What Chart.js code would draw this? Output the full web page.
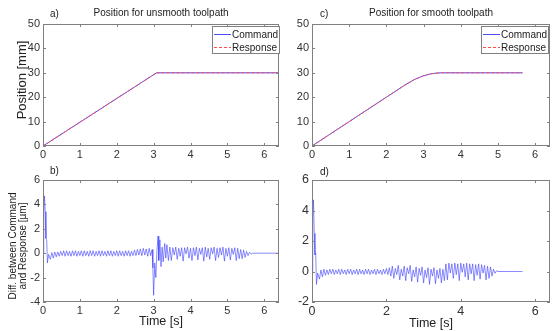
<!DOCTYPE html>
<html>
<head>
<meta charset="utf-8">
<script src="https://cdn.jsdelivr.net/npm/chart.js@4.4.1/dist/chart.umd.min.js"></script>
<style>
html, body { margin: 0; padding: 0; background: #fff; }
#wrap { position: relative; width: 552px; height: 331px; overflow: hidden; }
canvas { position: absolute; left: 0; top: 0; }
</style>
</head>
<body>
<div id="wrap">
  <canvas id="pa" width="552" height="331"></canvas>
  <canvas id="pb" width="552" height="331"></canvas>
  <canvas id="pc" width="552" height="331"></canvas>
  <canvas id="pd" width="552" height="331"></canvas>
</div>
<script>
// a) position, unsmooth toolpath
const timeA = [0, 3.08, 6.4];
const cmdA = [0, 30, 30];
const respA = [0, 30, 30];

// c) position, smooth toolpath
const timeC = [0, 0.5, 1, 1.5, 2, 2.5, 2.75, 3, 3.2, 3.4, 3.5, 5.66];
const cmdC = [0, 5, 10, 15, 20, 25, 27.2, 28.8, 29.6, 29.95, 30, 30];
const respC = [0, 5, 10, 15, 20, 25, 27.2, 28.8, 29.6, 29.95, 30, 30];

// b) diff, unsmooth
const timeB = [0, 0.02, 0.04, 0.06, 0.08, 0.1, 0.12, 0.15, 0.2, 0.24, 0.28, 0.32, 0.36, 0.4,
  0.44, 0.48, 0.52, 0.56, 0.6, 0.64, 0.68, 0.72, 0.76, 0.8,
  0.84, 0.88, 0.92, 0.96, 1.0, 1.04, 1.08, 1.12, 1.16, 1.2,
  1.24, 1.28, 1.32, 1.36, 1.4, 1.44, 1.48, 1.52, 1.56, 1.6,
  1.64, 1.68, 1.72, 1.76, 1.8, 1.84, 1.88, 1.92, 1.96, 2.0,
  2.04, 2.08, 2.12, 2.16, 2.2, 2.24, 2.28, 2.32, 2.36, 2.4,
  2.44, 2.48, 2.52, 2.56, 2.6,
  2.64, 2.68, 2.72, 2.76, 2.8, 2.84, 2.88, 2.92, 2.96,
  2.98, 3.0, 3.03, 3.06, 3.09, 3.12, 3.14, 3.17, 3.2, 3.23, 3.26, 3.3, 3.33, 3.36, 3.4,
  3.44, 3.48, 3.52, 3.56, 3.6, 3.64, 3.68, 3.72, 3.76, 3.8,
  3.84, 3.88, 3.92, 3.96, 4.0, 4.04, 4.08, 4.12, 4.16, 4.2,
  4.24, 4.28, 4.32, 4.36, 4.4, 4.44, 4.48, 4.52, 4.56, 4.6,
  4.64, 4.68, 4.72, 4.76, 4.8, 4.84, 4.88, 4.92, 4.96, 5.0,
  5.04, 5.08, 5.12, 5.16, 5.2, 5.24, 5.28, 5.32,
  5.36, 5.4, 5.44, 5.48, 5.52, 5.56, 5.6, 5.64, 5.68, 6.4];
const diffB = [0, 3.2, 4.7, 3.4, 1.2, 1.1, -0.8, -0.1, -0.5, 0.05, -0.4, 0.1, -0.3, 0.1,
  -0.25, 0.15, -0.2, 0.2, -0.25, 0.2, -0.2, 0.15, -0.25, 0.2,
  -0.2, 0.2, -0.25, 0.15, -0.2, 0.2, -0.25, 0.2, -0.2, 0.15,
  -0.25, 0.2, -0.2, 0.2, -0.25, 0.15, -0.2, 0.2, -0.25, 0.2,
  -0.2, 0.15, -0.25, 0.2, -0.2, 0.2, -0.25, 0.15, -0.2, 0.2,
  -0.25, 0.2, -0.2, 0.15, -0.25, 0.2, -0.2, 0.2, -0.25, 0.15,
  -0.2, 0.25, -0.2, 0.3, -0.15,
  0.35, -0.2, 0.4, -0.15, 0.35, -0.25, 0.4, -0.2, 0.3,
  -1.2, -3.45, -0.8, -2.0, 0.2, 1.4, -0.6, 1.1, -1.1, 0.5, -0.7, 0.8, -0.4, 0.7, -0.6,
  0.5, -0.6, 0.45, -0.15, 0.5, -0.5, 0.4, -0.25, 0.45, -0.65,
  0.45, -0.05, 0.5, -0.4, 0.4, -0.6, 0.45, -0.2, 0.5, -0.55,
  0.4, -0.1, 0.45, -0.65, 0.5, -0.3, 0.4, -0.5, 0.45, -0.05,
  0.5, -0.6, 0.4, -0.35, 0.45, -0.15, 0.5, -0.65, 0.4, -0.25,
  0.45, -0.55, 0.4, -0.1, 0.45, -0.6, 0.4, -0.45,
  0.3, -0.45, 0.25, -0.35, 0.15, -0.2, 0.08, -0.08, 0.0, 0];

// d) diff, smooth
const timeD = [0, 0.02, 0.04, 0.06, 0.08, 0.1, 0.12, 0.15, 0.2, 0.24, 0.28, 0.32, 0.36, 0.4,
  0.44, 0.48, 0.52, 0.56, 0.6, 0.64, 0.68, 0.72, 0.76, 0.8,
  0.84, 0.88, 0.92, 0.96, 1.0, 1.04, 1.08, 1.12, 1.16, 1.2,
  1.24, 1.28, 1.32, 1.36, 1.4, 1.44, 1.48, 1.52, 1.56, 1.6,
  1.64, 1.68, 1.72, 1.76, 1.8, 1.84, 1.88, 1.92, 1.96, 2.0,
  2.04, 2.08, 2.12,
  2.16, 2.2, 2.24, 2.28, 2.32, 2.36, 2.4, 2.44, 2.48, 2.52,
  2.56, 2.6, 2.64, 2.68, 2.72, 2.76, 2.8, 2.84, 2.88, 2.92,
  2.96, 3.0, 3.04, 3.08, 3.12, 3.16, 3.2, 3.24, 3.28, 3.32,
  3.36, 3.4, 3.44, 3.48, 3.52, 3.56,
  3.6, 3.64, 3.68, 3.72, 3.76, 3.8, 3.84, 3.88, 3.92, 3.96,
  4.0, 4.04, 4.08, 4.12, 4.16, 4.2, 4.24, 4.28, 4.32, 4.36,
  4.4, 4.44, 4.48, 4.52, 4.56, 4.6, 4.64, 4.68, 4.72,
  4.76, 4.8, 4.84, 4.88, 4.92, 4.96, 5.0, 5.66];
const diffD = [0, 3.5, 4.7, 2.5, 1.1, 1.2, -0.85, -0.1, -0.5, 0.1, -0.35, 0.15, -0.25, 0.1,
  -0.2, 0.15, -0.15, 0.15, -0.2, 0.1, -0.15, 0.15, -0.2, 0.15,
  -0.15, 0.1, -0.2, 0.15, -0.15, 0.15, -0.2, 0.1, -0.15, 0.15,
  -0.2, 0.15, -0.15, 0.1, -0.2, 0.15, -0.15, 0.15, -0.2, 0.1,
  -0.15, 0.15, -0.2, 0.15, -0.15, 0.1, -0.2, 0.15, -0.15, 0.2,
  -0.2, 0.25, -0.3,
  0.35, -0.45, 0.2, -0.2, 0.4, -0.55, 0.15, -0.3, 0.35, -0.6,
  0.25, -0.15, 0.4, -0.65, 0.1, -0.35, 0.3, -0.7, 0.2, -0.25,
  0.3, -0.75, 0.1, -0.4, 0.25, -0.85, 0.15, -0.3, 0.25, -0.8,
  0.1, -0.45, 0.2, -0.75, 0.15, -0.6,
  0.5, -0.55, 0.55, -0.1, 0.5, -0.45, 0.55, -0.2, 0.5, -0.6,
  0.55, -0.05, 0.5, -0.35, 0.55, -0.55, 0.5, -0.15, 0.5, -0.6,
  0.45, -0.25, 0.5, -0.5, 0.45, -0.1, 0.4, -0.55, 0.35,
  -0.45, 0.3, -0.3, 0.15, -0.12, 0.05, 0, 0];

// tick labels
const xTicksABC = [0, 1, 2, 3, 4, 5, 6];
const xTicksD = [0, 2, 4, 6];
const yTicksPos = [0, 10, 20, 30, 40, 50];
const yTicksB = [-4, -2, 0, 2, 4, 6];
const yTicksD = [-2, 0, 2, 4, 6];

const FONT = "'Liberation Sans', Arial, sans-serif";
Chart.defaults.font.family = FONT;

const Y_W = 35;   // room kept for y tick labels
const X_H = 20;   // room kept for x tick labels

function pts(xs, ys) {
  return xs.map((x, i) => ({ x: x, y: ys[i] }));
}

// frame, inward ticks, titles and legend, matlab style
const decor = {
  id: 'decor',
  afterDraw(chart, args, o) {
    const ctx = chart.ctx, a = chart.chartArea;
    const xs = chart.scales.x, ys = chart.scales.y;
    ctx.save();
    ctx.strokeStyle = '#808080';
    ctx.lineWidth = 1;
    ctx.strokeRect(a.left + 0.5, a.top + 0.5, a.right - a.left - 1, a.bottom - a.top - 1);
    ctx.beginPath();
    xs.ticks.forEach(t => {
      const px = Math.round(xs.getPixelForValue(t.value)) + 0.5;
      ctx.moveTo(px, a.bottom); ctx.lineTo(px, a.bottom - 3);
      ctx.moveTo(px, a.top); ctx.lineTo(px, a.top + 3);
    });
    ys.ticks.forEach(t => {
      const py = Math.round(ys.getPixelForValue(t.value)) + 0.5;
      ctx.moveTo(a.left, py); ctx.lineTo(a.left + 3, py);
      ctx.moveTo(a.right, py); ctx.lineTo(a.right - 3, py);
    });
    ctx.stroke();

    ctx.fillStyle = '#222';
    ctx.textBaseline = 'middle';
    ctx.font = '10px ' + FONT;
    ctx.textAlign = 'left';
    ctx.fillText(o.letter, o.letterX, o.letterY);
    if (o.title) {
      ctx.textAlign = 'center';
      ctx.fillText(o.title, (a.left + a.right) / 2, 13);
    }
    if (o.xTitle) {
      ctx.font = '12.5px ' + FONT;
      ctx.textAlign = 'center';
      ctx.fillText(o.xTitle, (a.left + a.right) / 2, o.xTitleY);
    }
    if (o.yTitle) {
      ctx.save();
      ctx.translate(o.yTitleX, o.yTitleY);
      ctx.rotate(-Math.PI / 2);
      ctx.font = o.yTitleSize + 'px ' + FONT;
      ctx.textAlign = 'center';
      o.yTitle.forEach((line, i) => {
        ctx.fillText(line, 0, (i - (o.yTitle.length - 1) / 2) * o.yTitleSize * 1.05);
      });
      ctx.restore();
    }
    if (o.legend) {
      const L = o.legend;
      ctx.fillStyle = '#fff';
      ctx.fillRect(L.x1, L.y1, L.x2 - L.x1, L.y2 - L.y1);
      ctx.strokeStyle = '#808080';
      ctx.strokeRect(L.x1 + 0.5, L.y1 + 0.5, L.x2 - L.x1 - 1, L.y2 - L.y1 - 1);
      chart.data.datasets.forEach((ds, i) => {
        const y = L.y1 + 8 + i * 13;
        ctx.strokeStyle = ds.borderColor;
        ctx.lineWidth = 1;
        ctx.setLineDash(ds.borderDash || []);
        ctx.beginPath();
        ctx.moveTo(L.x1 + 2, y + 0.5); ctx.lineTo(L.x1 + 19, y + 0.5);
        ctx.stroke();
        ctx.setLineDash([]);
        ctx.fillStyle = '#222';
        ctx.font = '10px ' + FONT;
        ctx.textAlign = 'left';
        ctx.fillText(ds.label, L.x1 + 20, y + 1);
      });
    }
    ctx.restore();
  }
};

function panel(id, datasets, area, xTicks, yTicks, yMin, yMax, tickSize, deco) {
  return new Chart(document.getElementById(id), {
    type: 'line',
    data: { datasets: datasets },
    options: {
      responsive: false,
      animation: false,
      layout: { padding: { left: area[0] - Y_W, top: area[1], right: 552 - area[2], bottom: 331 - area[3] - X_H } },
      plugins: { legend: { display: false }, tooltip: { enabled: false }, decor: deco },
      elements: { point: { radius: 0 }, line: { tension: 0 } },
      scales: {
        x: {
          type: 'linear', min: 0, max: 6.4,
          afterBuildTicks: s => { s.ticks = xTicks.map(v => ({ value: v })); },
          afterFit: s => { s.height = X_H; },
          grid: { display: false, drawTicks: false }, border: { display: false },
          ticks: { padding: 2, color: '#333', font: { size: tickSize }, autoSkip: false, maxRotation: 0 }
        },
        y: {
          type: 'linear', min: yMin, max: yMax,
          afterBuildTicks: s => { s.ticks = yTicks.map(v => ({ value: v })); },
          afterFit: s => { s.width = Y_W; },
          grid: { display: false, drawTicks: false }, border: { display: false },
          ticks: { padding: 3, color: '#333', font: { size: tickSize }, autoSkip: false }
        }
      }
    },
    plugins: [decor]
  });
}

function posSets(t, cmd, resp) {
  return [
    { label: 'Command', data: pts(t, cmd), borderColor: '#4b4bff', borderWidth: 1, order: 1 },
    { label: 'Response', data: pts(t, resp), borderColor: '#ff4d4d', borderWidth: 1, borderDash: [3, 2], order: 0 }
  ];
}

function diffSet(t, d) {
  return [{ label: 'Diff', data: pts(t, d), borderColor: '#3c3cff', borderWidth: 0.6 }];
}

panel('pa', posSets(timeA, cmdA, respA), [43, 24, 279, 146], xTicksABC, yTicksPos, 0, 50, 11, {
  letter: 'a)', letterX: 50, letterY: 14, title: 'Position for unsmooth toolpath',
  yTitle: ['Position [mm]'], yTitleX: 22, yTitleY: 80, yTitleSize: 13,
  legend: { x1: 212, y1: 26, x2: 280, y2: 54 }
});
panel('pc', posSets(timeC, cmdC, respC), [312, 24, 550, 146], xTicksABC, yTicksPos, 0, 50, 11, {
  letter: 'c)', letterX: 320, letterY: 14, title: 'Position for smooth toolpath',
  legend: { x1: 481, y1: 26, x2: 549, y2: 54 }
});
panel('pb', diffSet(timeB, diffB), [43, 180, 279, 302], xTicksABC, yTicksB, -4, 6, 11, {
  letter: 'b)', letterX: 50, letterY: 171,
  yTitle: ['Diff. between Command', 'and Response [\u00b5m]'], yTitleX: 18, yTitleY: 246, yTitleSize: 10,
  xTitle: 'Time [s]', xTitleY: 322
});
panel('pd', diffSet(timeD, diffD), [312, 180, 550, 302], xTicksD, yTicksD, -2, 6, 12.5, {
  letter: 'd)', letterX: 320, letterY: 172,
  xTitle: 'Time [s]', xTitleY: 324
});
</script>
</body>
</html>
